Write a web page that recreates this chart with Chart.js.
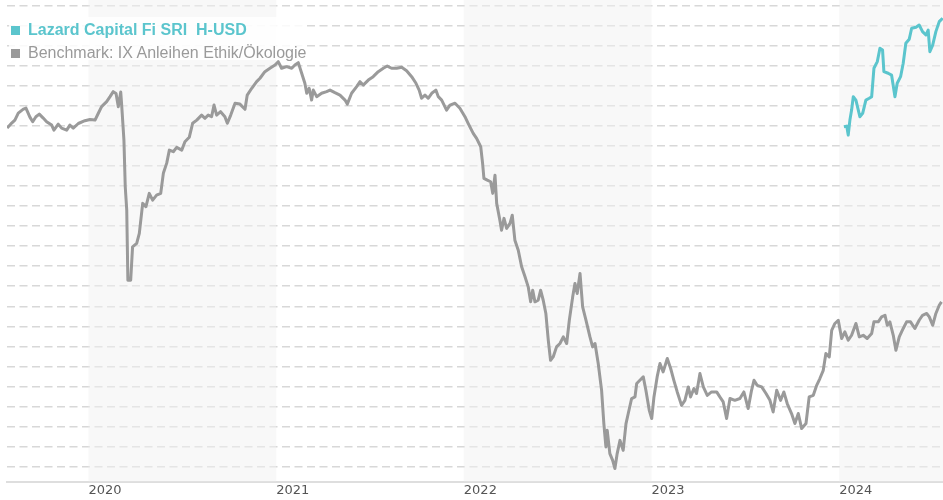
<!DOCTYPE html>
<html>
<head>
<meta charset="utf-8">
<script src="https://cdn.jsdelivr.net/npm/chart.js@4.4.1/dist/chart.umd.min.js"></script>
<style>
html,body{margin:0;padding:0;background:#fff;}
#wrap{position:relative;width:943px;height:500px;overflow:hidden;}
#c{position:absolute;left:0;top:0;}
#legbox{position:absolute;left:9px;top:17px;width:298px;height:43px;background:rgba(255,255,255,0.85);}
.sw{position:absolute;width:9px;height:9px;}
.lt{position:absolute;font-family:"Liberation Sans",Arial,sans-serif;font-size:16px;line-height:16px;white-space:pre;}
</style>
</head>
<body>
<div id="wrap">
  <canvas id="c" width="943" height="500"></canvas>
  <div id="legbox"></div>
  <div class="sw" style="left:11px;top:26px;background:#5bc5cd;"></div>
  <div class="lt" style="left:28px;top:21.5px;color:#5bc5cd;font-weight:bold;">Lazard Capital Fi SRI  H-USD</div>
  <div class="sw" style="left:11px;top:49px;background:#9a9a9a;"></div>
  <div class="lt" style="left:28px;top:44.5px;color:#9a9a9a;">Benchmark: IX Anleihen Ethik/Ökologie</div>
</div>
<script>
// ---- data (decimal year, index level) ----
const benchmarkDates = [
2019.567,2019.591,2019.608,2019.626,2019.653,2019.667,2019.688,2019.703,2019.720,2019.738,
2019.759,2019.777,2019.804,2019.816,2019.839,2019.857,2019.884,2019.901,2019.919,2019.946,
2019.981,2020.008,2020.035,2020.052,2020.070,2020.097,2020.115,2020.132,2020.147,2020.159,
2020.172,2020.177,2020.189,2020.196,2020.204,2020.210,2020.225,2020.235,2020.257,2020.271,
2020.289,2020.306,2020.324,2020.342,2020.363,2020.385,2020.399,2020.417,2020.431,2020.452,
2020.470,2020.497,2020.514,2020.537,2020.555,2020.577,2020.603,2020.621,2020.638,2020.656,
2020.669,2020.683,2020.704,2020.727,2020.740,2020.758,2020.781,2020.807,2020.834,2020.846,
2020.870,2020.896,2020.914,2020.940,2020.967,2020.994,2021.011,2021.029,2021.056,2021.083,
2021.100,2021.118,2021.136,2021.153,2021.163,2021.176,2021.189,2021.198,2021.216,2021.242,
2021.269,2021.287,2021.313,2021.340,2021.367,2021.379,2021.402,2021.429,2021.447,2021.464,
2021.491,2021.517,2021.544,2021.571,2021.592,2021.615,2021.642,2021.669,2021.695,2021.722,
2021.745,2021.762,2021.775,2021.793,2021.810,2021.829,2021.851,2021.864,2021.882,2021.908,
2021.926,2021.953,2021.979,2022.006,2022.023,2022.050,2022.068,2022.090,2022.100,2022.107,
2022.125,2022.143,2022.154,2022.166,2022.175,2022.192,2022.201,2022.214,2022.228,2022.246,
2022.258,2022.272,2022.290,2022.308,2022.326,2022.343,2022.356,2022.367,2022.379,2022.396,
2022.409,2022.423,2022.437,2022.450,2022.462,2022.476,2022.494,2022.512,2022.530,2022.548,
2022.562,2022.580,2022.592,2022.604,2022.619,2022.633,2022.651,2022.672,2022.686,2022.699,
2022.716,2022.734,2022.746,2022.757,2022.764,2022.778,2022.793,2022.805,2022.817,2022.832,
2022.849,2022.864,2022.876,2022.894,2022.912,2022.921,2022.938,2022.956,2022.970,2022.988,
2023.001,2023.013,2023.030,2023.045,2023.062,2023.084,2023.102,2023.119,2023.137,2023.160,
2023.178,2023.196,2023.208,2023.226,2023.240,2023.258,2023.276,2023.297,2023.320,2023.347,
2023.364,2023.382,2023.400,2023.418,2023.444,2023.471,2023.492,2023.515,2023.533,2023.546,
2023.563,2023.587,2023.610,2023.631,2023.648,2023.667,2023.688,2023.705,2023.723,2023.746,
2023.764,2023.782,2023.800,2023.823,2023.840,2023.862,2023.880,2023.897,2023.915,2023.929,
2023.947,2023.960,2023.977,2023.995,2024.013,2024.030,2024.048,2024.066,2024.089,2024.107,
2024.128,2024.149,2024.173,2024.185,2024.208,2024.226,2024.244,2024.256,2024.270,2024.288,
2024.302,2024.320,2024.341,2024.359,2024.380,2024.403,2024.426,2024.444,2024.466,2024.480,
2024.498,2024.515,2024.533,2024.545
];
const benchmarkValues = [
17.90,18.15,18.30,18.65,18.85,18.90,18.45,18.22,18.47,18.60,
18.40,18.22,18.05,17.80,18.10,17.90,17.80,18.05,17.90,18.13,
18.27,18.33,18.30,18.63,18.97,19.22,19.47,19.72,19.63,18.97,
19.70,19.05,17.30,14.97,13.80,10.30,10.30,11.97,12.14,12.64,
14.14,13.97,14.64,14.30,14.55,14.64,15.64,16.15,16.80,16.72,
16.94,16.80,17.22,17.44,18.14,18.30,18.55,18.39,18.55,18.47,
19.05,18.55,18.72,18.47,18.14,18.55,19.14,19.10,18.84,19.55,
19.89,20.22,20.39,20.72,20.89,21.05,21.22,20.89,20.97,20.89,
21.05,21.17,20.64,20.14,19.64,19.89,19.30,19.80,19.47,19.64,
19.72,19.80,19.67,19.55,19.30,19.10,19.64,19.97,20.22,20.05,
20.30,20.47,20.72,20.89,21.00,20.89,20.89,20.94,20.77,20.47,
20.14,19.80,19.39,19.55,19.39,19.64,19.80,19.47,19.30,18.80,
19.05,19.14,18.89,18.47,18.14,17.64,17.39,16.97,16.14,15.39,
15.30,15.22,14.64,15.55,14.14,13.30,12.80,13.39,12.89,13.14,
13.55,12.30,11.80,10.97,10.47,9.97,9.22,9.80,9.22,9.30,
9.80,9.30,8.64,7.30,6.30,6.47,6.97,7.14,7.47,7.14,
8.30,9.47,10.14,9.64,10.64,8.97,8.30,7.47,6.97,7.14,
6.14,4.80,3.14,1.97,2.80,1.64,1.30,0.89,1.64,2.30,
1.80,3.14,3.64,4.39,4.47,5.14,5.30,5.47,4.80,3.80,
3.39,4.47,5.47,6.14,5.72,6.39,5.89,5.30,4.72,4.05,
4.30,4.97,4.47,4.89,4.64,5.64,4.97,4.55,4.72,4.72,
4.47,4.22,3.39,4.39,4.30,4.39,4.72,3.89,4.80,5.30,
5.05,4.97,4.64,4.30,3.72,4.80,4.30,4.72,4.14,3.64,
3.14,3.64,2.89,3.14,4.47,4.55,5.05,5.39,5.80,6.64,
6.47,7.80,8.14,8.30,7.39,7.72,7.30,7.55,8.14,7.47,
7.55,7.39,7.64,8.22,8.22,8.47,8.55,8.05,8.22,7.55,
6.80,7.47,7.89,8.22,8.22,7.89,8.30,8.55,8.64,8.47,
8.05,8.64,9.05,9.22
];
const fundDates = [
2024.025,2024.040,2024.048,2024.057,2024.066,2024.075,2024.089,2024.110,2024.125,2024.142,
2024.160,2024.173,2024.185,2024.203,2024.217,2024.231,2024.238,2024.261,2024.279,2024.297,
2024.309,2024.327,2024.341,2024.355,2024.373,2024.386,2024.409,2024.426,2024.444,2024.462,
2024.474,2024.483,2024.498,2024.515,2024.533,2024.551
];
const fundValues = [
17.97,18.00,17.55,18.30,18.80,19.47,19.30,18.47,18.64,19.30,
19.39,19.47,20.89,21.22,21.89,21.80,20.72,20.64,20.55,19.47,
20.14,20.47,21.14,22.14,22.34,22.89,22.94,23.05,22.72,22.55,
22.80,21.72,22.05,22.72,23.22,23.39
];
const yearTicks = [2020, 2021, 2022, 2023, 2024];
const yearLabels = ['2020', '2021', '2022', '2023', '2024'];
const shadedYears = [2020, 2022, 2024];
const gridLevels = [1,2,3,4,5,6,7,8,9,10,11,12,13,14,15,16,17,18,19,20,21,22,23,24];

const toPoints = (xs, ys) => xs.map((x, i) => ({x: x, y: ys[i]}));

const bandPlugin = {
  id: 'yearBands',
  beforeDatasetsDraw(chart) {
    const {ctx, chartArea: a, scales: {x}} = chart;
    ctx.save();
    ctx.fillStyle = 'rgba(242,242,242,0.5)';
    shadedYears.forEach(yr => {
      const x0 = Math.max(a.left, x.getPixelForValue(yr));
      const x1 = Math.min(a.right, x.getPixelForValue(yr + 1));
      if (x1 > x0) ctx.fillRect(x0, a.top, x1 - x0, a.bottom - a.top - 1);
    });
    ctx.restore();
  }
};

new Chart(document.getElementById('c'), {
  type: 'line',
  data: {
    datasets: [
      {
        label: 'Lazard Capital Fi SRI  H-USD',
        data: toPoints(fundDates, fundValues),
        borderColor: '#5bc5cd',
        borderWidth: 3,
        pointRadius: 0,
        tension: 0,
        fill: false,
        borderJoinStyle: 'round',
        order: 0
      },
      {
        label: 'Benchmark: IX Anleihen Ethik/Ökologie',
        data: toPoints(benchmarkDates, benchmarkValues),
        borderColor: '#9a9a9a',
        borderWidth: 3,
        pointRadius: 0,
        tension: 0,
        fill: false,
        borderJoinStyle: 'round',
        order: 1
      }
    ]
  },
  options: {
    responsive: false,
    animation: false,
    events: [],
    layout: {padding: {left: 7, right: 0, top: 0, bottom: 2}},
    plugins: {legend: {display: false}, tooltip: {enabled: false}},
    scales: {
      x: {
        type: 'linear',
        min: 2019.566,
        max: 2024.553,
        afterBuildTicks: s => { s.ticks = yearTicks.map(v => ({value: v})); },
        grid: {display: false, drawTicks: false},
        border: {display: true, color: '#dedede', width: 2},
        ticks: {
          align: 'start',
          padding: 0,
          autoSkip: false,
          maxRotation: 0,
          color: '#555555',
          font: {family: 'DejaVu Sans', size: 13},
          callback: v => yearLabels[yearTicks.indexOf(v)]
        }
      },
      y: {
        type: 'linear',
        min: 0.2,
        max: 24.3,
        afterBuildTicks: s => { s.ticks = gridLevels.map(v => ({value: v})); },
        afterFit: s => { s.width = 0; },
        ticks: {display: false},
        border: {display: false, dash: [8, 4.5]},
        grid: {color: '#d8d8d8', lineWidth: 1.5, drawTicks: false, tickLength: 0}
      }
    }
  },
  plugins: [bandPlugin]
});
</script>
</body>
</html>
